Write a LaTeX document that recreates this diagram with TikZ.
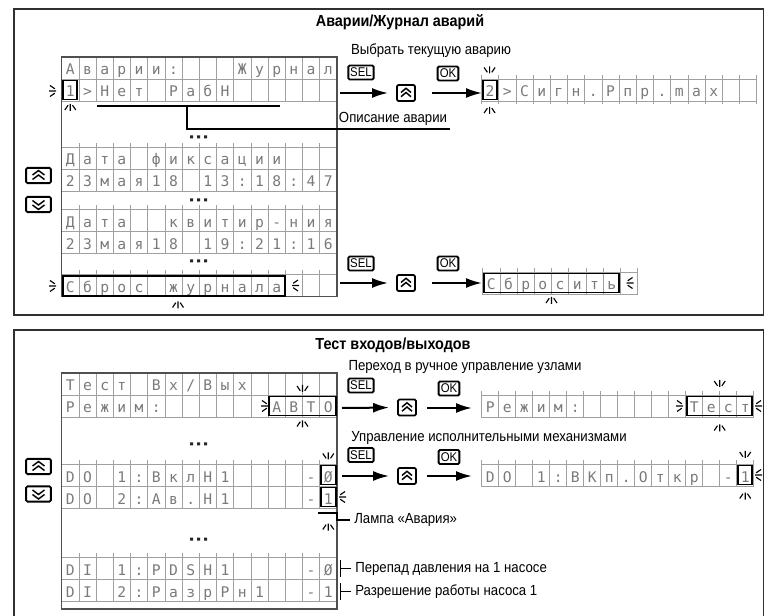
\documentclass[tikz,border=0pt]{standalone}
\usepackage{fontspec}
\setmainfont{Liberation Sans}
\newfontfamily\narrowfont{Liberation Sans}[FakeStretch=0.9]
\newfontfamily\lcdfont{DejaVu Sans Mono}
\usetikzlibrary{arrows.meta}

\definecolor{gridc}{HTML}{A0A0A0}
\definecolor{lcdtxt}{HTML}{7A7A7A}
\definecolor{framec}{HTML}{505050}
\definecolor{panelc}{HTML}{303030}

\tikzset{
  gridline/.style={draw=gridc, line width=0.6pt},
  lcdframe/.style={draw=framec, line width=0.9pt},
  lcdchar/.style={font=\lcdfont\fontsize{11pt}{12pt}\selectfont, text=lcdtxt,
    inner sep=0pt, text height=10.5pt, text depth=0pt},
  hl/.style={draw=black, line width=1.4pt},
  blinkline/.style={draw=black, line width=0.85pt},
  keybox/.style={draw=black, line width=1.4pt, rounded corners=1pt, fill=white, inner sep=0pt},
  keytxt/.style={keybox, font=\narrowfont\fontsize{9.5pt}{10pt}\selectfont, minimum height=10.5pt},
  chev/.style={line width=1.1pt},
  bigarrow/.style={line width=1.5pt, -{Latex[length=12pt,width=7.5pt]}},
  note/.style={font=\narrowfont\fontsize{11pt}{13pt}\selectfont, inner sep=0pt},
  ttl/.style={font=\narrowfont\bfseries\fontsize{12pt}{14pt}\selectfont, inner sep=0pt},
  leader/.style={line width=1.2pt},
  panel/.style={draw=panelc, line width=1.5pt},
  blinkD/.pic={\draw[blinkline] (0,-4)--(0,3) (-5.5,-3)--(-2.2,1.8) (5.5,-3)--(2.2,1.8);},
  blinkU/.pic={\draw[blinkline] (0,4)--(0,-3) (-5.5,3)--(-2.2,-1.8) (5.5,3)--(2.2,-1.8);},
  blinkR/.pic={\draw[blinkline] (-4,0)--(3,0) (-3,-5.5)--(1.8,-2.2) (-3,5.5)--(1.8,2.2);},
  blinkL/.pic={\draw[blinkline] (4,0)--(-3,0) (3,-5.5)--(-1.8,-2.2) (3,5.5)--(-1.8,2.2);},
  dots/.pic={\fill[black!85] (-8.5,-1.5) rectangle ++(3,3) (-1.5,-1.5) rectangle ++(3,3) (5.5,-1.5) rectangle ++(3,3);},
  upkey/.pic={\node[keybox, minimum width=13.5pt, minimum height=12pt] (-box) at (0,0) {};
    \draw[chev] (-5,-0.5)--(0,-4.7)--(5,-0.5) (-5,3.7)--(0,-0.5)--(5,3.7);},
  upkeyL/.pic={\node[keybox, minimum width=18.5pt, minimum height=11.5pt] (-box) at (0,0) {};
    \draw[chev] (-6,-0.5)--(0,-5)--(6,-0.5) (-6,4)--(0,-0.5)--(6,4);},
  downkeyL/.pic={\node[keybox, minimum width=18.5pt, minimum height=11.5pt] (-box) at (0,0) {};
    \draw[chev] (-6,0.5)--(0,5)--(6,0.5) (-6,-4)--(0,0.5)--(6,-4);},
}

% #1 name, #2 x0, #3 top, #4 cell width, #5 characters
\newcommand\lcdrow[5]{%
  \foreach \ch [count=\k from 0] in {#5} {
    \draw[gridline] ({#2+\k*#4},#3) rectangle ++(#4,22);
    \node[lcdchar] (#1-\k) at ({#2+(\k+0.5)*#4},{#3+11}) {\ch};
  }%
}
% stubs: #1 x0, #2 y, #3 cells, #4 cell width, #5 length (signed)
\newcommand\lcdstubs[5]{%
  \foreach \k in {0,...,#3} { \draw[gridline] ({#1+\k*#4},#2) -- ++(0,#5); }%
}

\begin{document}
\begin{tikzpicture}[x=0.75pt,y=-0.75pt]
\useasboundingbox (0,0) rectangle (764,616);
\clip (0,0) rectangle (764,616);

% ================= Panel 1 =================
\draw[panel] (14,9.5) rectangle (763.5,315);
\node[ttl] (title1) at (400,22) {Аварии/Журнал аварий};

% left LCD
\lcdrow{a1}{61.7}{57}{17.2}{А,в,а,р,и,и,:,{},{},{},Ж,у,р,н,а,л}
\lcdrow{a2}{61.7}{79}{17.2}{1,>,Н,е,т,{},Р,а,б,Н,{},{},{},{},{},{}}
\lcdstubs{61.7}{147}{16}{17.2}{-4}
\lcdrow{a3}{61.7}{147}{17.2}{Д,а,т,а,{},ф,и,к,с,а,ц,и,и,{},{},{}}
\lcdrow{a4}{61.7}{169}{17.2}{2,3,м,а,я,1,8,{},1,3,:,1,8,:,4,7}
\lcdstubs{61.7}{209.5}{16}{17.2}{-4}
\lcdrow{a5}{61.7}{209.5}{17.2}{Д,а,т,а,{},{},к,в,и,т,и,р,-,н,и,я}
\lcdrow{a6}{61.7}{231.5}{17.2}{2,3,м,а,я,1,8,{},1,9,:,2,1,:,1,6}
\lcdstubs{61.7}{274.5}{16}{17.2}{-4}
\lcdrow{a7}{61.7}{274.5}{17.2}{С,б,р,о,с,{},ж,у,р,н,а,л,а,{},{},{}}
\draw[lcdframe] (61.7,57) rectangle (336.9,296.5);
\pic at (198.5,137) {dots};
\pic at (198.5,200) {dots};
\pic at (198.5,261) {dots};

\draw[hl] (63.2,80.5) rectangle (77.4,99.5);
\pic at (53,91) {blinkR};
\pic at (70.3,107) {blinkU};
\draw[hl] (62.6,275.6) rectangle (284.6,295.6);
\pic at (53,286) {blinkR};
\pic at (295,285.5) {blinkL};
\pic at (178,304.5) {blinkU};

% description leader
\coordinate (u1) at (97,106);
\coordinate (u2) at (280,106);
\coordinate (u3) at (187,106);
\coordinate (u4) at (187,129);
\coordinate (u5) at (450,129);
\draw[leader] (u1) -- (u2);
\draw[leader] (u3) -- (u4) -- (u5);
\node[note] (desc) at (393,118.5) {Описание аварии};

% left keys
\pic (kup1) at (38.5,175.5) {upkeyL};
\pic (kdn1) at (38.5,204.5) {downkeyL};

% select current alarm
\node[note] (t1) at (431,51) {Выбрать текущую аварию};
\node[keytxt, minimum width=19pt] (sel1) at (361,72.5) {SEL};
\node[keytxt, minimum width=15.5pt] (ok1) at (448,73.5) {OK};
\pic (up1) at (406,93) {upkey};
\coordinate (s1) at (340,93);
\coordinate (s2) at (432,93);
\coordinate (s3) at (482,93);
\draw[bigarrow, shorten >=6pt] (s1) -- (up1-box.west);
\draw[bigarrow] (s2) -- (s3);
\lcdstubs{481.5}{79}{16}{17.2}{-3.5}
\lcdstubs{481.5}{101}{16}{17.2}{3.5}
\lcdrow{b1}{481.5}{79}{17.2}{2,>,С,и,г,н,.,Р,п,р,.,m,a,x,{},{}}
\draw[hl] (483,80.5) rectangle (497.2,99.5);
\pic at (489.6,70.5) {blinkD};
\pic at (489.6,110) {blinkU};

% reset journal
\node[keytxt, minimum width=19pt] (sel2) at (361,263.5) {SEL};
\node[keytxt, minimum width=15.5pt] (ok2) at (448,263.5) {OK};
\pic (up2) at (406,283) {upkey};
\coordinate (r1) at (340,283);
\coordinate (r2) at (432,283);
\coordinate (r3) at (482,283);
\draw[bigarrow, shorten >=6pt] (r1) -- (up2-box.west);
\draw[bigarrow] (r2) -- (r3);
\lcdstubs{482.7}{272}{9}{17.2}{-4}
\lcdrow{b2}{482.7}{272}{17.2}{С,б,р,о,с,и,т,ь,{}}
\draw[hl] (484,273.5) rectangle (619.2,292.5);
\pic at (629.5,283) {blinkL};
\pic at (551.5,300) {blinkU};

% ================= Panel 2 =================
\draw[panel] (14,330) rectangle (763.5,640);
\node[ttl] (title2) at (393,345) {Тест входов/выходов};

\lcdrow{c1}{61.7}{373}{17.2}{Т,е,с,т,{},В,х,/,В,ы,х,{},{},{},{},{}}
\lcdrow{c2}{61.7}{395}{17.2}{Р,е,ж,и,м,:,{},{},{},{},{},{},А,В,Т,О}
\lcdstubs{61.7}{464}{16}{17.2}{-4}
\lcdrow{c3}{61.7}{464}{17.2}{D,O,{},1,:,В,к,л,Н,1,{},{},{},{},-,Ø}
\lcdrow{c4}{61.7}{486}{17.2}{D,O,{},2,:,А,в,.,Н,1,{},{},{},{},-,1}
\lcdstubs{61.7}{557}{16}{17.2}{-4}
\lcdrow{c5}{61.7}{557}{17.2}{D,I,{},1,:,P,D,S,H,1,{},{},{},{},-,Ø}
\lcdrow{c6}{61.7}{579}{17.2}{D,I,{},2,:,Р,а,з,р,Р,н,1,{},{},-,1}
\draw[lcdframe] (61.7,373) rectangle (336.9,609);
\pic at (198.5,444) {dots};
\pic at (198.5,539) {dots};

\draw[hl] (269.3,396.5) rectangle (335.6,415.5);
\pic at (265,406) {blinkR};
\pic at (302.5,389) {blinkD};
\pic at (302.5,423.5) {blinkU};
\draw[hl] (321,465.5) rectangle (335.6,484.5);
\pic at (328.3,456.5) {blinkD};
\draw[hl] (321,487.5) rectangle (335.6,506.5);
\pic at (342,497) {blinkL};
\pic at (328.3,526.5) {blinkU};

% lamp leader
\coordinate (l1) at (318,513);
\coordinate (l2) at (336.9,513);
\coordinate (l3) at (336.9,520);
\coordinate (l4) at (350,520);
\draw[leader] (l1) -- (l2) -- (l3) -- (l4);
\node[note, anchor=west] (lamp) at (354,520) {Лампа «Авария»};

% DI leaders
\coordinate (d1a) at (340.5,560);
\coordinate (d1b) at (340.5,577);
\coordinate (d1c) at (340.5,568.5);
\coordinate (d1d) at (351,568.5);
\draw[leader] (d1a) -- (d1b) (d1c) -- (d1d);
\node[note, anchor=west] (di1) at (355,568.5) {Перепад давления на 1 насосе};
\coordinate (d2a) at (340.5,583);
\coordinate (d2b) at (340.5,600);
\coordinate (d2c) at (340.5,591.5);
\coordinate (d2d) at (351,591.5);
\draw[leader] (d2a) -- (d2b) (d2c) -- (d2d);
\node[note, anchor=west] (di2) at (355,591.5) {Разрешение работы насоса 1};

% left keys
\pic (kup2) at (38.5,466.5) {upkeyL};
\pic (kdn2) at (38.5,494) {downkeyL};

% manual mode
\node[note] (t3) at (465,367) {Переход в ручное управление узлами};
\node[keytxt, minimum width=19pt] (sel3) at (361,385.5) {SEL};
\node[keytxt, minimum width=15.5pt] (ok3) at (449,388.5) {OK};
\pic (up3) at (407,407.5) {upkey};
\coordinate (m1) at (342,408);
\coordinate (m2) at (427,408);
\coordinate (m3) at (472,408);
\draw[bigarrow, shorten >=6pt] (m1) -- (up3-box.west);
\draw[bigarrow] (m2) -- (m3);
\lcdstubs{481.7}{395}{16}{17}{-4}
\lcdrow{d1}{481.7}{395}{17}{Р,е,ж,и,м,:,{},{},{},{},{},{},Т,е,с,т}
\draw[hl] (687.2,396.5) rectangle (752.4,415.5);
\pic at (680,406) {blinkR};
\pic at (758,406) {blinkL};
\pic at (719.7,384) {blinkD};
\pic at (719.7,427.5) {blinkU};

% actuators
\node[note] (t4) at (489,438) {Управление исполнительными механизмами};
\node[keytxt, minimum width=19pt] (sel4) at (361,455) {SEL};
\node[keytxt, minimum width=15.5pt] (ok4) at (449,457) {OK};
\pic (up4) at (407,476) {upkey};
\coordinate (n1) at (342,476);
\coordinate (n2) at (427,476);
\coordinate (n3) at (472,476);
\draw[bigarrow, shorten >=6pt] (n1) -- (up4-box.west);
\draw[bigarrow] (n2) -- (n3);
\lcdstubs{481.7}{464}{16}{17}{-4}
\lcdrow{d2}{481.7}{464}{17}{D,O,{},1,:,В,К,п,.,О,т,к,р,{},-,1}
\draw[hl] (738,465.5) rectangle (752.4,484.5);
\pic at (745.2,455) {blinkD};
\pic at (745.2,495.5) {blinkU};
\pic at (758,475) {blinkL};
\end{tikzpicture}
\end{document}
